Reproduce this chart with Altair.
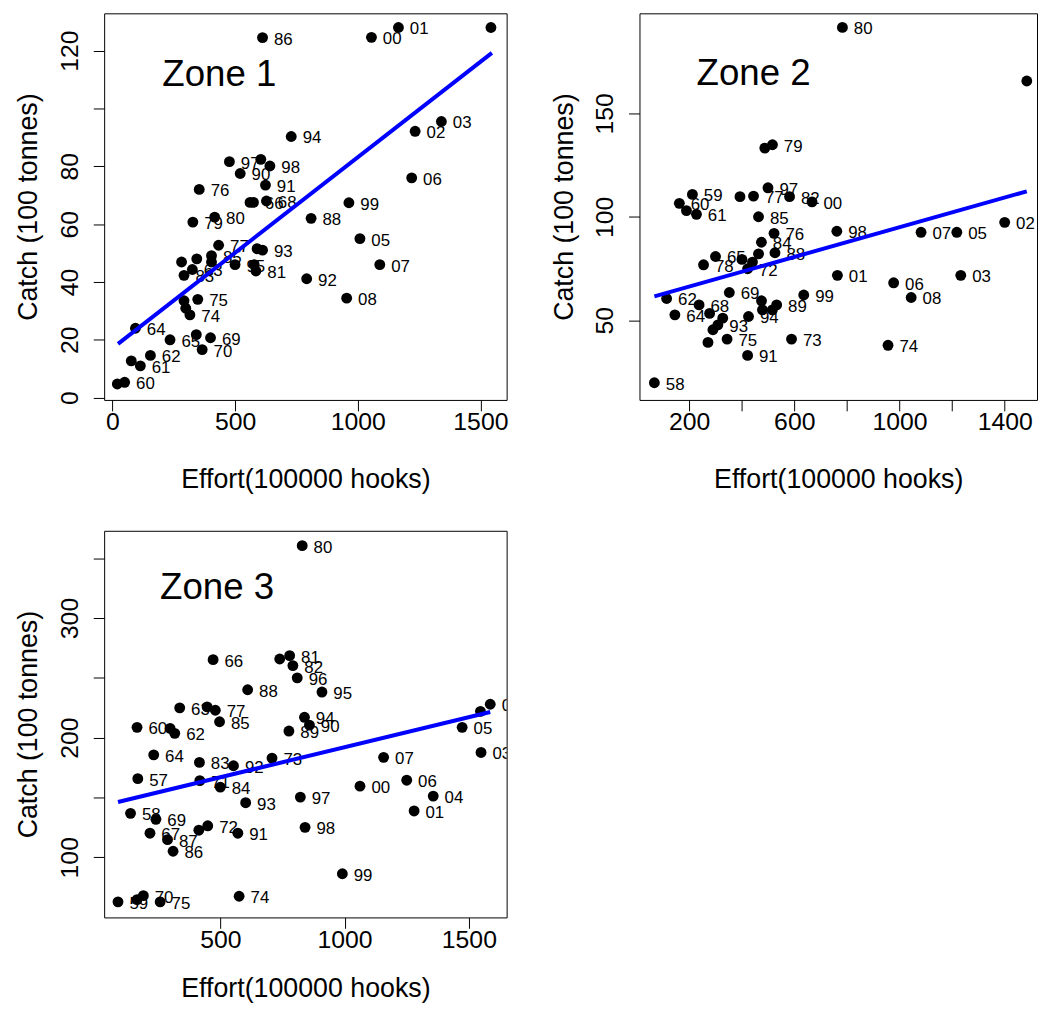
import altair as alt
import pandas as pd

FONT = "Liberation Sans"

# ---------------- data ----------------
z1_effort = [612, 729, 477, 605, 642, 521, 624, 354, 561, 575, 628, 328, 417, 810, 433, 590, 612, 282, 344, 404,
             404, 326, 292, 500, 578, 585, 348, 292, 299, 316, 94, 235, 342, 400, 366, 155, 77, 114, 20, 50,
             1166, 1056, 1543, 1341, 1234, 1220, 964, 1009, 1090, 792, 955]
z1_catch = [124.5, 90.3, 81.6, 82.4, 80.1, 77.5, 73.5, 72.0, 67.5, 67.5, 68.0, 60.7, 62.4, 62.0, 52.7, 51.5, 51.0,
            46.9, 48.0, 49.1, 46.9, 44.3, 42.3, 46.0, 46.0, 43.8, 34.0, 33.5, 30.9, 28.6, 24.0, 20.0, 21.8, 20.7,
            16.6, 14.6, 12.7, 11.0, 4.7, 5.3, 128.0, 124.6, 128.0, 95.5, 92.1, 76.0, 67.4, 55.0, 46.0, 41.1, 34.4]
z1_year = ["86", "94", "97", "", "98", "90", "91", "76", "", "66", "68", "79", "80", "88", "77", "", "93", "", "",
           "85", "", "63", "83", "95", "", "81", "75", "", "", "74", "64", "65", "", "69", "70", "62", "", "61", "",
           "60", "01", "00", "", "03", "02", "06", "99", "05", "07", "92", "08"]
z1_fit_effort = [23, 1547]
z1_fit_catch = [18.6, 119.2]

z2_effort = [783, 1484, 488, 517, 500, 393.5, 445, 582, 667.5, 212.6, 163, 190, 228, 464, 523, 475, 526.6, 464,
             422.5, 401, 300.5, 255, 441, 114.6, 146, 238, 278, 328, 309.5, 290.6, 344.5, 271.8, 353, 475.4, 533,
             479, 516.6, 426, 422.5, 589.5, 636, 68, 761.8, 764, 1082, 1218, 1400, 1233, 977.8, 1044.5, 956.4]
z2_catch = [191.5, 165.6, 133.2, 134.8, 114, 109.7, 110, 109.7, 107.2, 110.8, 106.5, 103, 101.2, 100, 92, 87.7,
            82.6, 82.1, 74.9, 79.4, 80.8, 76.8, 78.1, 60.5, 52.6, 57.4, 53.3, 51, 47.8, 45.4, 40.9, 39.3, 63.4,
            59.4, 57.4, 55, 55, 51.8, 33, 40.9, 62.2, 19.8, 93, 71.7, 92.5, 92.5, 97.3, 71.7, 68.1, 61, 37.9]
z2_year = ["80", "", "", "79", "97", "", "77", "82", "00", "59", "60", "", "61", "85", "76", "84", "88", "", "72",
           "", "65", "78", "", "62", "64", "68", "", "", "93", "", "75", "", "69", "", "89", "", "", "94", "91",
           "73", "99", "58", "98", "01", "07", "05", "02", "03", "06", "08", "74"]
z2_fit_effort = [68, 1484]
z2_fit_catch = [61.5, 112.3]

z3_effort = [829.5, 471, 739, 779, 792, 809.5, 610, 909, 336.7, 447, 480, 497, 165, 298, 316.7, 776, 838.6, 858.6,
             232, 416, 553, 708, 168, 417.5, 500, 602, 822, 138.8, 241, 217, 413.6, 449.4, 570.5, 287.6, 310, 841,
             88.4, 165, 190.4, 258, 575.7, 1473, 1546.6, 1586, 1549, 1157, 1250, 1062, 1356.6, 1279.7, 991]
z3_catch = [360.5, 265.2, 265.7, 268.5, 260.2, 250, 240, 238.1, 224.9, 225.7, 222.9, 213.3, 208.6, 207.7, 203.6,
            205.5, 217, 210.5, 185.6, 179.3, 176.5, 182.9, 165.7, 164, 158.6, 145.6, 150.3, 136.7, 131.7, 120.1,
            122.6, 126.3, 120.1, 114.7, 105, 125, 62.7, 64.6, 67.9, 62.7, 67.4, 208.6, 222, 227.9, 187.6, 183.5,
            164.4, 159.4, 151.1, 138.7, 86.2]
z3_year = ["80", "66", "", "81", "82", "96", "88", "95", "63", "", "77", "85", "60", "", "62", "89", "94", "90",
           "64", "83", "92", "73", "57", "71", "84", "93", "97", "58", "69", "67", "", "72", "91", "87", "86", "98",
           "59", "", "70", "75", "74", "05", "", "02", "03", "07", "06", "00", "04", "01", "99"]
z3_fit_effort = [88.4, 1586]
z3_fit_catch = [146.2, 221.4]

zone_names = ["Zone 1", "Zone 2", "Zone 3"]

X_TITLE = "Effort(100000 hooks)"
Y_TITLE = "Catch (100 tonnes)"


def shown_expr(vals):
    cond = " || ".join(f"datum.value == {v}" for v in vals)
    return f"({cond}) ? datum.label : ''"


def panel(effort, catch, year, fit_e, fit_c, zone, zone_xy, xdom, ydom, xticks, xshown, yticks, yshown,
          width, height=390, xtitle_y=80):
    df = pd.DataFrame({"effort": effort, "catch": catch, "year": year})
    fdf = pd.DataFrame({"effort": fit_e, "catch": fit_c})
    zdf = pd.DataFrame({"effort": [zone_xy[0]], "catch": [zone_xy[1]], "label": [zone]})
    xaxis = alt.Axis(values=xticks, format="d", labelExpr=shown_expr(xshown), title=X_TITLE,
                     titleFont=FONT, titleFontSize=27, titleFontWeight="normal", titleColor="black",
                     titleX=width / 2, titleY=xtitle_y, titleBaseline="middle", titleAlign="center",
                     labelFont=FONT, labelFontSize=25, labelColor="black", labelBaseline="middle",
                     labelAlign="center", labelPadding=11, labelFlush=False, labelOverlap=False,
                     tickSize=11, tickColor="black", tickWidth=1, domain=False, grid=False)
    yaxis = alt.Axis(values=yticks, format="d", labelExpr=shown_expr(yshown), title=Y_TITLE,
                     titleFont=FONT, titleFontSize=27, titleFontWeight="normal", titleColor="black",
                     titleAngle=270, titleX=-76, titleY=height / 2, titleBaseline="middle", titleAlign="center",
                     labelFont=FONT, labelFontSize=25, labelColor="black", labelAngle=270,
                     labelBaseline="middle", labelAlign="center", labelPadding=24, labelFlush=False,
                     labelOverlap=False, tickSize=11, tickColor="black", tickWidth=1, domain=False, grid=False)
    X = alt.X("effort:Q", scale=alt.Scale(domain=xdom, nice=False, zero=False), axis=xaxis)
    Y = alt.Y("catch:Q", scale=alt.Scale(domain=ydom, nice=False, zero=False), axis=yaxis)

    base = alt.Chart(df)
    labels = base.mark_text(align="left", baseline="middle", dx=11.5, dy=2, fontSize=17, font=FONT,
                            color="black", clip=True).encode(x=X, y=Y, text="year:N")
    pts = base.mark_circle(size=120, color="black", opacity=1, clip=True).encode(x=X, y=Y)
    line = alt.Chart(fdf).mark_line(color="#0000ff", strokeWidth=4, clip=True).encode(x=X, y=Y)
    ztext = alt.Chart(zdf).mark_text(align="center", baseline="alphabetic", fontSize=37, font=FONT,
                                     color="black").encode(x=X, y=Y, text="label:N")
    return alt.layer(labels, pts, line, ztext).properties(width=width, height=height)


p1 = panel(z1_effort, z1_catch, z1_year, z1_fit_effort, z1_fit_catch, zone_names[0], (436, 107.7),
           [-33.5, 1607], [-0.8, 132.9], [0, 500, 1000, 1500], [0, 500, 1000, 1500],
           [0, 20, 40, 60, 80, 100, 120], [0, 20, 40, 60, 80, 120], 406)
p2 = panel(z2_effort, z2_catch, z2_year, z2_fit_effort, z2_fit_catch, zone_names[1], (445.5, 163.5),
           [11.4, 1522.9], [11.5, 198.3], [200, 400, 600, 800, 1000, 1200, 1400], [200, 600, 1000, 1400],
           [50, 100, 150], [50, 100, 150], 401)
p3 = panel(z3_effort, z3_catch, z3_year, z3_fit_effort, z3_fit_catch, zone_names[2], (487, 315.5),
           [32.7, 1652], [49.7, 372.9], [500, 1000, 1500], [500, 1000, 1500],
           [100, 150, 200, 250, 300, 350], [100, 200, 300], 406, xtitle_y=72)

chart = alt.concat(p1, p2, p3, columns=2, spacing={"row": 132, "column": 134}, bounds="flush").properties(
    padding={"left": 6, "top": 0, "right": 0, "bottom": 0}
).configure(font=FONT, background="white").configure_view(stroke="black", strokeWidth=1)

chart.save("out.html", embed_options={"renderer": "svg", "actions": False})
